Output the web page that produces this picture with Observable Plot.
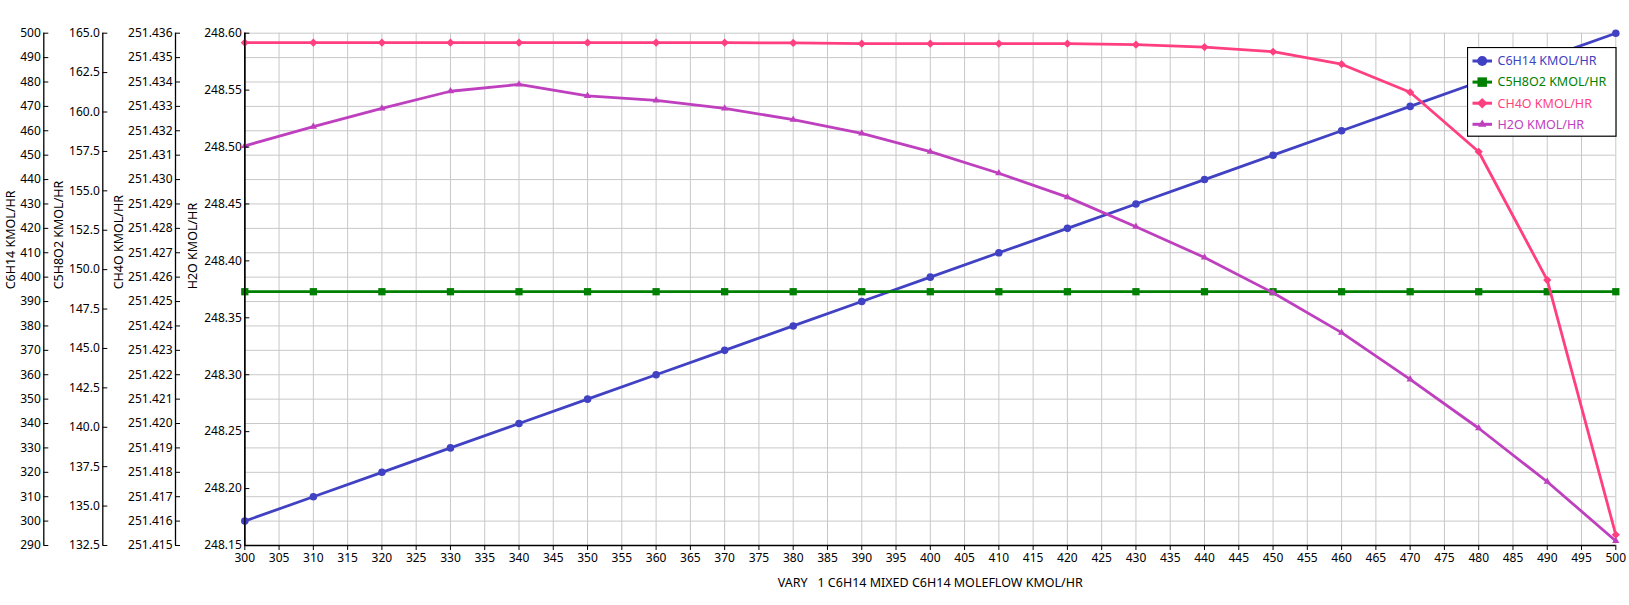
<!DOCTYPE html>
<html>
<head>
<meta charset="utf-8">
<script src="https://cdn.jsdelivr.net/npm/d3@7"></script>
<script src="https://cdn.jsdelivr.net/npm/@observablehq/plot@0.6"></script>
<style>
  body { margin: 0; background: #fff; }
  #wrap { position: relative; width: 1629px; height: 605px; font-family: "Noto Sans", sans-serif; overflow: hidden; }
  #wrap svg.layer { position: absolute; left: 0; top: 0; overflow: visible; }
  #title { position: absolute; left: 244.3px; width: 1371px; top: 8px; text-align: center; font: bold 14px "Noto Sans", sans-serif; color: #000; }
  #legend { position: absolute; left: 1467px; top: 47px; }
</style>
</head>
<body>
<div id="wrap"><div id="title">Sensitivity Results Curve</div></div>
<script>
// ---------- data ----------
const xValues = [300, 310, 320, 330, 340, 350, 360, 370, 380, 390, 400, 410, 420, 430, 440, 450, 460, 470, 480, 490, 500];
const c6h14 = [300, 310, 320, 330, 340, 350, 360, 370, 380, 390, 400, 410, 420, 430, 440, 450, 460, 470, 480, 490, 500];
const c5h8o2 = [148.6, 148.6, 148.6, 148.6, 148.6, 148.6, 148.6, 148.6, 148.6, 148.6, 148.6, 148.6, 148.6, 148.6, 148.6, 148.6, 148.6, 148.6, 148.6, 148.6, 148.6];
const ch4o = [251.43561, 251.43561, 251.43561, 251.43561, 251.43561, 251.43561, 251.43561, 251.43561, 251.43560, 251.43557, 251.43557, 251.43557, 251.43557, 251.43553, 251.43543, 251.43524, 251.43473, 251.43358, 251.43114, 251.42588, 251.41544];
const h2o = [248.501, 248.518, 248.534, 248.549, 248.555, 248.545, 248.541, 248.534, 248.524, 248.512, 248.496, 248.477, 248.456, 248.430, 248.403, 248.372, 248.337, 248.296, 248.253, 248.206, 248.154];

const seriesNames = ["C6H14 KMOL/HR", "C5H8O2 KMOL/HR", "CH4O KMOL/HR", "H2O KMOL/HR"];
const axisTitles = ["C6H14 KMOL/HR", "C5H8O2 KMOL/HR", "CH4O KMOL/HR", "H2O KMOL/HR"];
const xTitle = "VARY   1 C6H14 MIXED C6H14 MOLEFLOW KMOL/HR";
const chartTitle = "Sensitivity Results Curve";

const xTicks = [300, 305, 310, 315, 320, 325, 330, 335, 340, 345, 350, 355, 360, 365, 370, 375, 380, 385, 390, 395, 400, 405, 410, 415, 420, 425, 430, 435, 440, 445, 450, 455, 460, 465, 470, 475, 480, 485, 490, 495, 500];
const c6h14Ticks = [290, 300, 310, 320, 330, 340, 350, 360, 370, 380, 390, 400, 410, 420, 430, 440, 450, 460, 470, 480, 490, 500];
const c5h8o2Ticks = [132.5, 135.0, 137.5, 140.0, 142.5, 145.0, 147.5, 150.0, 152.5, 155.0, 157.5, 160.0, 162.5, 165.0];
const ch4oTicks = [251.415, 251.416, 251.417, 251.418, 251.419, 251.420, 251.421, 251.422, 251.423, 251.424, 251.425, 251.426, 251.427, 251.428, 251.429, 251.430, 251.431, 251.432, 251.433, 251.434, 251.435, 251.436];
const h2oTicks = [248.15, 248.20, 248.25, 248.30, 248.35, 248.40, 248.45, 248.50, 248.55, 248.60];

// ---------- layout / style ----------
const W = 1629, H = 605, MT = 32.7, MB = 60, ML = 244.3, MR = 13.7;
const colors = ["#4141C4", "#008000", "#FF3F80", "#BF40BF"];
const symbols = ["circle", "square", "diamond2", "triangle"];
const radii = [3.8, 4.1, 3.7, 2.7];
const gridColor = "#C8C8C8";
const labelSize = 12.5;

const series = [
  {values: c6h14, ticks: c6h14Ticks, fmt: d3.format("d"), axisPos: 43.3, titleOff: 32.8},
  {values: c5h8o2, ticks: c5h8o2Ticks, fmt: d3.format(".1f"), axisPos: 102.3, titleOff: 43.5},
  {values: ch4o, ticks: ch4oTicks, fmt: d3.format(".3f"), axisPos: 175, titleOff: 57},
  {values: h2o, ticks: h2oTicks, fmt: d3.format(".2f"), axisPos: 244.3, titleOff: 52.3}
];

const baseStyle = {background: "transparent", fontFamily: "Noto Sans", fontSize: "12px", color: "#000", overflow: "visible"};
const wrap = document.getElementById("wrap");
function add(svg) { svg.classList.add("layer"); wrap.appendChild(svg); }

// grid + x axis layer
add(Plot.plot({
  width: W, height: H, marginTop: MT, marginBottom: MB, marginLeft: ML, marginRight: MR,
  style: {...baseStyle, background: "#fff"},
  x: {domain: [300, 500], axis: null},
  y: {domain: [c6h14Ticks[0], c6h14Ticks[c6h14Ticks.length - 1]], axis: null},
  marks: [
    Plot.gridX(xTicks, {stroke: gridColor, strokeOpacity: 1, strokeWidth: 1}),
    Plot.gridY(c6h14Ticks, {stroke: gridColor, strokeOpacity: 1, strokeWidth: 1}),
    Plot.ruleY([c6h14Ticks[0]], {stroke: "#000", strokeWidth: 1.3}),
    Plot.ruleX([300], {stroke: "#000", strokeWidth: 1.3}),
    Plot.axisX(xTicks, {tickSize: 5, tickPadding: 3, label: null, tickFormat: d3.format("d")}),
    Plot.text([xTitle], {frameAnchor: "bottom", dy: 37, lineAnchor: "middle", fontSize: labelSize, text: d => d})
  ]
}));

// series layers
series.forEach((s, i) => {
  const rows = xValues.map((x, k) => ({x, v: s.values[k]}));
  add(Plot.plot({
    width: W, height: H, marginTop: MT, marginBottom: MB, marginLeft: ML, marginRight: MR,
    style: baseStyle,
    x: {domain: [300, 500], axis: null},
    y: {domain: [s.ticks[0], s.ticks[s.ticks.length - 1]], axis: null},
    marks: [
      Plot.line(rows, {x: "x", y: "v", stroke: colors[i], strokeWidth: 2.8}),
      Plot.dot(rows, {x: "x", y: "v", symbol: symbols[i], r: radii[i], fill: colors[i], stroke: "none"})
    ]
  }));
});

// axis layers
series.forEach((s, i) => {
  add(Plot.plot({
    width: W, height: H, marginTop: MT, marginBottom: MB, marginLeft: s.axisPos, marginRight: W - s.axisPos - 50,
    style: baseStyle,
    x: {domain: [0, 1], axis: null},
    y: {domain: [s.ticks[0], s.ticks[s.ticks.length - 1]], axis: null},
    marks: [
      Plot.ruleX([0], {stroke: "#000", strokeWidth: 1.3}),
      Plot.axisY(s.ticks, {tickSize: 5, dx: 5, fill: "none", label: null}),
      Plot.axisY(s.ticks, {tickSize: 0, tickPadding: 3, tickFormat: s.fmt, label: null}),
      Plot.text([axisTitles[i]], {frameAnchor: "left", rotate: -90, dx: -s.titleOff, lineAnchor: "middle", fontSize: labelSize, text: d => d})
    ]
  }));
});

// title
document.getElementById("title").textContent = chartTitle;

// legend
const lg = d3.create("svg").attr("id", "legend").attr("width", 150).attr("height", 90);
lg.append("rect").attr("x", 0.5).attr("y", 0.5).attr("width", 148.5).attr("height", 88.7)
  .attr("fill", "#fff").attr("stroke", "#000").attr("stroke-width", 1.2);
const lgSymbols = [d3.symbolCircle, d3.symbolSquare, d3.symbolDiamond2, d3.symbolTriangle];
const lgSizes = [78, 90, 70, 30];
seriesNames.forEach((name, i) => {
  const cy = 14 + i * 21.1;
  lg.append("line").attr("x1", 5.5).attr("x2", 25).attr("y1", cy).attr("y2", cy)
    .attr("stroke", colors[i]).attr("stroke-width", 3);
  lg.append("path").attr("d", d3.symbol(lgSymbols[i], lgSizes[i])())
    .attr("transform", `translate(15.2,${cy})`).attr("fill", colors[i]);
  lg.append("text").attr("x", 30.5).attr("y", cy).attr("dy", "0.35em")
    .attr("fill", colors[i]).attr("font-family", "Noto Sans").attr("font-size", labelSize).text(name);
});
wrap.appendChild(lg.node());
</script>
</body>
</html>
